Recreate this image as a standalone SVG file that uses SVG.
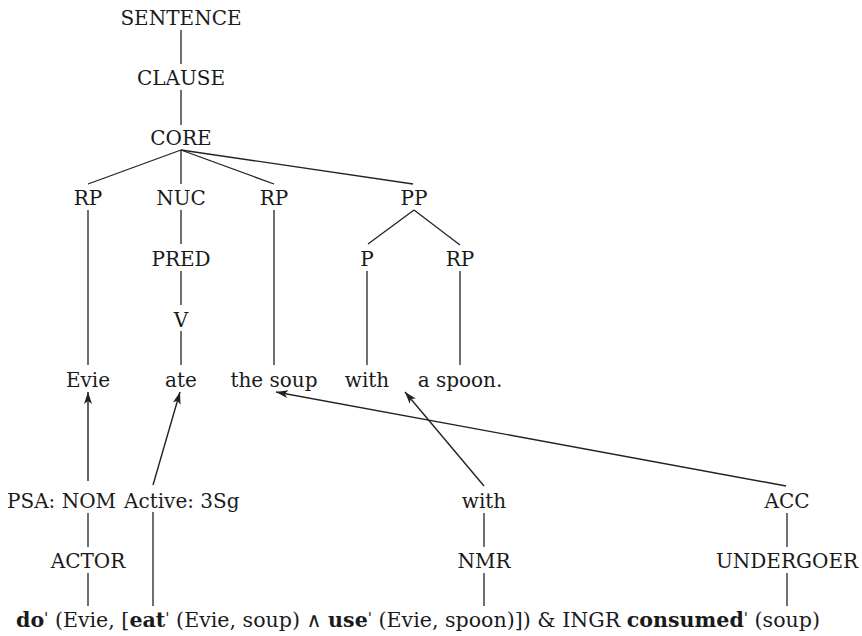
<svg xmlns="http://www.w3.org/2000/svg" width="862" height="636" viewBox="0 0 862 636">
<style>
text{font-family:"DejaVu Serif","Liberation Serif",serif;font-size:20px;fill:#1a1a1a}
.n text{text-anchor:middle}
.l{stroke:#222;stroke-width:1.3;fill:none}
.a{stroke:#222;stroke-width:1.4;fill:none;marker-end:url(#ah)}
.b{font-weight:bold}
.sup{font-size:15px}
</style>
<defs>
<marker id="ah" markerUnits="userSpaceOnUse" markerWidth="14" markerHeight="10" refX="12" refY="4" orient="auto">
<path d="M0,0 L12,4 L0,8 L3,4 z" fill="#222"/>
</marker>
</defs>
<rect width="862" height="636" fill="#fff"/>
<g id="connectors">
<line class="l" x1="181" y1="30" x2="181" y2="64"/>
<line class="l" x1="181" y1="90" x2="181" y2="125"/>
<line class="l" x1="181" y1="150" x2="88" y2="184"/>
<line class="l" x1="181" y1="150" x2="181" y2="184"/>
<line class="l" x1="181" y1="150" x2="274" y2="184"/>
<line class="l" x1="181" y1="150" x2="413" y2="184"/>
<line class="l" x1="88" y1="210" x2="88" y2="365"/>
<line class="l" x1="181" y1="210" x2="181" y2="244"/>
<line class="l" x1="274" y1="210" x2="274" y2="365"/>
<line class="l" x1="414" y1="210" x2="368" y2="244"/>
<line class="l" x1="414" y1="210" x2="460" y2="245"/>
<line class="l" x1="181" y1="271" x2="181" y2="305"/>
<line class="l" x1="367" y1="271" x2="367" y2="365"/>
<line class="l" x1="460" y1="271" x2="460" y2="365"/>
<line class="l" x1="181" y1="331" x2="181" y2="365"/>
<line class="l" x1="88" y1="513" x2="88" y2="547"/>
<line class="l" x1="88" y1="573" x2="88" y2="606"/>
<line class="l" x1="153" y1="512" x2="153" y2="606"/>
<line class="l" x1="484" y1="513" x2="484" y2="547"/>
<line class="l" x1="484" y1="573" x2="484" y2="606"/>
<line class="l" x1="787" y1="513" x2="787" y2="547"/>
<line class="l" x1="787" y1="573" x2="787" y2="606"/>
<line class="a" x1="88" y1="481" x2="88" y2="392"/>
<line class="a" x1="153" y1="485" x2="180" y2="392"/>
<line class="a" x1="786" y1="486" x2="276" y2="392"/>
<line class="a" x1="484" y1="486" x2="405" y2="392"/>
</g>
<g class="n">
<g id="sentence"><text x="181" y="25">SENTENCE</text></g>
<g id="clause"><text x="181" y="85">CLAUSE</text></g>
<g id="core"><text x="181" y="145">CORE</text></g>
<g id="rp1"><text x="88" y="205">RP</text></g>
<g id="nuc"><text x="181" y="205">NUC</text></g>
<g id="rp2"><text x="274" y="205">RP</text></g>
<g id="pp"><text x="414" y="205">PP</text></g>
<g id="pred"><text x="181" y="266">PRED</text></g>
<g id="p"><text x="367" y="266">P</text></g>
<g id="rp3"><text x="460" y="266">RP</text></g>
<g id="v"><text x="181" y="327">V</text></g>
<g id="evie"><text x="88" y="387">Evie</text></g>
<g id="ate"><text x="181" y="387">ate</text></g>
<g id="thesoup"><text x="274" y="387">the soup</text></g>
<g id="with"><text x="367" y="387">with</text></g>
<g id="aspoon"><text x="460" y="387">a spoon.</text></g>
<g id="with2"><text x="484" y="508">with</text></g>
<g id="acc"><text x="787" y="508">ACC</text></g>
<g id="actor"><text x="88" y="568">ACTOR</text></g>
<g id="nmr"><text x="484" y="568">NMR</text></g>
<g id="undergoer"><text x="787" y="568">UNDERGOER</text></g>
</g>
<g id="psa"><text x="7" y="508">PSA: NOM</text></g>
<g id="active"><text x="124" y="508">Active: 3Sg</text></g>
<g id="formula"><text x="16" y="627" textLength="804" lengthAdjust="spacingAndGlyphs"><tspan class="b">do</tspan><tspan class="sup" dy="-4">'</tspan><tspan dy="4"> (Evie, [</tspan><tspan class="b">eat</tspan><tspan class="sup" dy="-4">'</tspan><tspan dy="4"> (Evie, soup) ∧ </tspan><tspan class="b">use</tspan><tspan class="sup" dy="-4">'</tspan><tspan dy="4"> (Evie, spoon)]) &amp; INGR </tspan><tspan class="b">consumed</tspan><tspan class="sup" dy="-4">'</tspan><tspan dy="4"> (soup)</tspan></text></g>
</svg>
